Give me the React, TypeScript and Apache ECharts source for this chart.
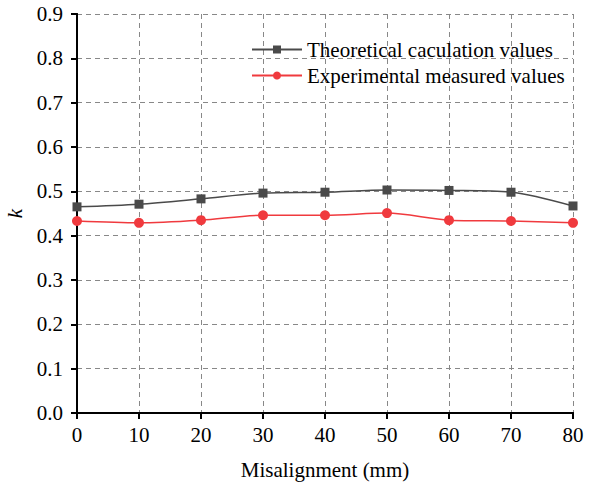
import React, { useEffect, useRef } from "react";
import * as echarts from "echarts";

const xValues = [0, 10, 20, 30, 40, 50, 60, 70, 80];
const theoretical = [0.465, 0.471, 0.483, 0.496, 0.498, 0.503, 0.502, 0.498, 0.467];
const experimental = [0.433, 0.429, 0.435, 0.446, 0.446, 0.451, 0.435, 0.433, 0.429];

const FONT = "'Liberation Serif', 'Times New Roman', serif";

export default function App() {
  const ref = useRef<HTMLDivElement>(null);
  useEffect(() => {
    const chart = echarts.init(ref.current!, null, { renderer: "svg" });
    const axisLine = { show: true, lineStyle: { color: "#000", width: 2 } };
    const split = { show: true, lineStyle: { color: "#888", type: [5, 4], width: 1 } };
    chart.setOption({
      animation: false,
      backgroundColor: "#fff",
      grid: { left: 77, right: 20, top: 14, bottom: 70, containLabel: false, outerBoundsMode: "none" },
      legend: {
        orient: "vertical",
        left: 246,
        top: 34,
        itemWidth: 50,
        itemHeight: 10,
        itemGap: 5,
        textStyle: { fontFamily: FONT, fontSize: 21, color: "#000" },
        data: ["Theoretical caculation values", "Experimental measured values"],
      },
      xAxis: [
        {
          type: "value",
          min: 0,
          max: 80,
          interval: 10,
          name: "Misalignment (mm)",
          nameLocation: "middle",
          nameGap: 46,
          nameTextStyle: { fontFamily: FONT, fontSize: 21, color: "#000" },
          axisLine,
          axisTick: { show: true, inside: false, length: 6, lineStyle: { color: "#000", width: 2 } },
          axisLabel: { fontFamily: FONT, fontSize: 21, color: "#000", margin: 11 },
          splitLine: split,
        },
        {
          type: "value",
          position: "top",
          min: 0,
          max: 80,
          interval: 10,
          axisLine,
          axisTick: { show: true, inside: true, length: 6, lineStyle: { color: "#000", width: 2 } },
          axisLabel: { show: false },
          splitLine: { show: false },
        },
      ],
      yAxis: [
        {
          type: "value",
          min: 0,
          max: 0.9,
          interval: 0.1,
          name: "k",
          nameLocation: "middle",
          nameGap: 49,
          nameTextStyle: { fontFamily: FONT, fontSize: 21, color: "#000", fontStyle: "italic" },
          axisLine,
          axisTick: { show: true, inside: false, length: 6, lineStyle: { color: "#000", width: 2 } },
          axisLabel: {
            fontFamily: FONT,
            fontSize: 21,
            color: "#000",
            margin: 14,
            formatter: (v: number) => v.toFixed(1),
          },
          splitLine: split,
        },
        {
          type: "value",
          position: "right",
          min: 0,
          max: 0.9,
          interval: 0.1,
          axisLine,
          axisTick: { show: true, inside: true, length: 6, lineStyle: { color: "#000", width: 2 } },
          axisLabel: { show: false },
          splitLine: { show: false },
        },
      ],
      series: [
        {
          name: "Theoretical caculation values",
          type: "line",
          smooth: 0.3,
          data: xValues.map((x, i) => [x, theoretical[i]]),
          symbol: "rect",
          symbolSize: 9,
          itemStyle: { color: "#4a4a4a" },
          lineStyle: { color: "#4a4a4a", width: 1.5 },
          z: 3,
        },
        {
          name: "Experimental measured values",
          type: "line",
          smooth: 0.3,
          data: xValues.map((x, i) => [x, experimental[i]]),
          symbol: "circle",
          symbolSize: 10,
          itemStyle: { color: "#f03a3e" },
          lineStyle: { color: "#f03a3e", width: 1.5 },
          z: 3,
        },
      ],
    });
    return () => chart.dispose();
  }, []);
  return <div ref={ref} style={{ width: 593, height: 483, position: "absolute", left: 0, top: 0 }} />;
}
